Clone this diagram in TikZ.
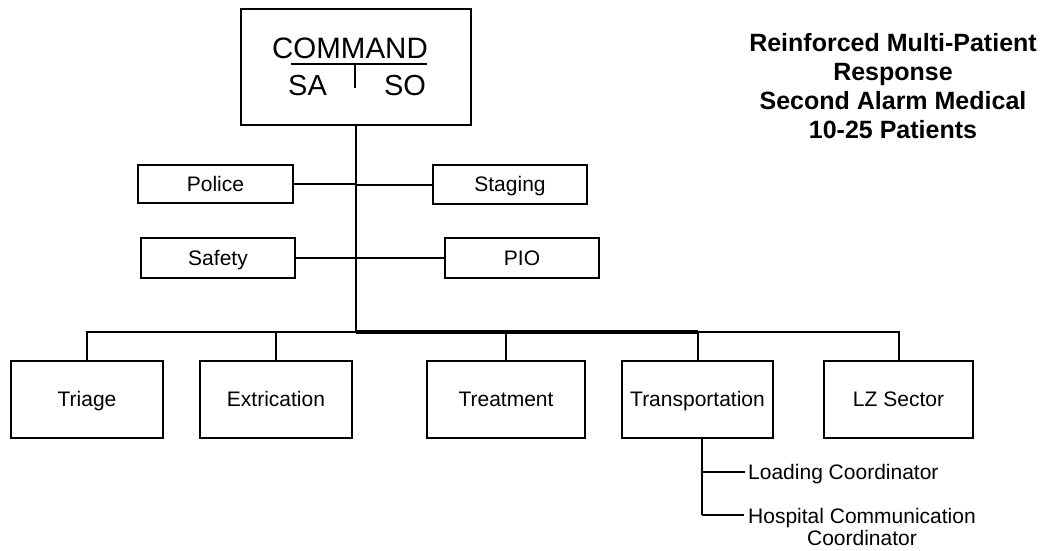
\documentclass[tikz,border=0pt]{standalone}
\usepackage{fontspec}
\setmainfont{Liberation Sans}
\usetikzlibrary{calc}

\begin{document}
\begin{tikzpicture}[x=1pt, y=-1pt,
    caja/.style={draw, line width=2pt, inner sep=0pt, text height=18.6pt, text depth=4pt,
        font=\fontsize{21}{24}\selectfont},
    linea/.style={line width=2pt},
    nota/.style={inner sep=0pt, font=\fontsize{21}{22}\selectfont}]
    \useasboundingbox (0,0) rectangle (1054,550);

    % Caja de mando
    \node[caja, minimum width=230pt, minimum height=116pt] (command) at (356,67) {};
    \node[inner sep=0pt, anchor=base, font=\fontsize{29.5}{30}\selectfont] (cmdtxt) at (350,58) {COMMAND};
    \node[inner sep=0pt, anchor=base, font=\fontsize{29}{30}\selectfont] (sa) at (307.5,95) {SA};
    \node[inner sep=0pt, anchor=base, font=\fontsize{29}{30}\selectfont] (so) at (405,95) {SO};
    \draw[line width=1.5pt] (291,64) -- (427,64);
    \draw[line width=1.5pt] (355,64) -- (355,88);

    % Titulo
    \node[align=center, inner sep=0pt, font=\bfseries\fontsize{25}{29}\selectfont] (titulo) at (893,86)
        {Reinforced Multi-Patient\\Response\\Second Alarm Medical\\10-25 Patients};

    % Staff
    \node[caja, minimum width=155pt, minimum height=38pt] (police) at (215.5,184) {Police};
    \node[caja, minimum width=154pt, minimum height=39pt] (staging) at (510,184.5) {Staging};
    \node[caja, minimum width=154pt, minimum height=40pt] (safety) at (218,258) {Safety};
    \node[caja, minimum width=154pt, minimum height=40pt] (pio) at (522,258) {PIO};

    % Sectores
    \node[caja, minimum width=152pt, minimum height=77pt] (triage) at (87,399.5) {Triage};
    \node[caja, minimum width=152pt, minimum height=77pt] (extrication) at (276,399.5) {Extrication};
    \node[caja, minimum width=158pt, minimum height=77pt] (treatment) at (506,399.5) {Treatment};
    \node[caja, minimum width=151pt, minimum height=77pt] (transport) at (697.5,399.5) {Transportation};
    \node[caja, minimum width=149pt, minimum height=77pt] (lz) at (898.5,399.5) {LZ Sector};

    % Tronco y barra
    \coordinate (bus) at (command.south |- 0,332);
    \draw[linea] (command.south) -- (bus);
    \draw[linea] (police.east) -- (police.east -| bus);
    \draw[linea] (staging.west) -- (staging.west -| bus);
    \draw[linea] (safety.east) -- (safety.east -| bus);
    \draw[linea] (pio.west) -- (pio.west -| bus);
    \draw[linea] (triage.north) -- (triage.north |- bus) -- (lz.north |- bus) -- (lz.north);
    \draw[line width=3.5pt] (bus) -- (transport.north |- bus);
    \draw[linea] (extrication.north) -- (extrication.north |- bus);
    \draw[linea] (treatment.north) -- (treatment.north |- bus);
    \draw[linea] (transport.north) -- (transport.north |- bus);

    % Sub-unidades de transporte
    \node[nota, inner xsep=3pt, anchor=base west] (load) at (745,479.5) {Loading Coordinator};
    \node[nota, align=center, anchor=north west] (hosp) at (748,508) {Hospital Communication\\Coordinator};
    \coordinate (sub) at ($(transport.south)+(4.5,0)$);
    \coordinate (c1) at (sub |- 0,472);
    \coordinate (c2) at (sub |- 0,515);
    \draw[linea] (sub) -- (c2);
    \draw[linea] (c1) -- (c1 -| load.west);
    \draw[linea] (c2) -- ($(c2 -| hosp.west)+(-4,0)$);
\end{tikzpicture}
\end{document}
